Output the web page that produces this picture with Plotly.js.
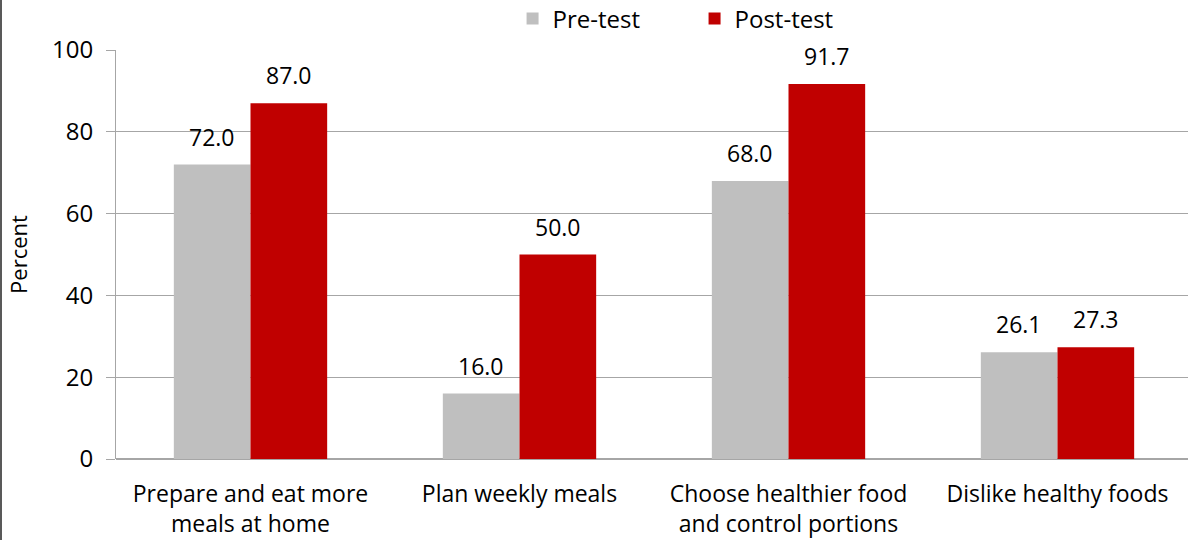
<!DOCTYPE html>
<html>
<head>
<meta charset="utf-8">
<script src="https://cdn.plot.ly/plotly-3.0.1.min.js"></script>
<style>
  html, body { margin: 0; padding: 0; overflow: hidden; background: #fff; }
  #chart { position: absolute; left: 0; top: 0; }
  #edge { position: absolute; left: 0; top: 0; width: 2px; height: 540px; background: #595959; z-index: 10; }
</style>
</head>
<body>
<div id="chart"></div>
<div id="edge"></div>
<script>
const categories = [
  "Prepare and eat more<br>meals at home",
  "Plan weekly meals",
  "Choose healthier food<br>and control portions",
  "Dislike healthy foods"
];
const preTest = [72.0, 16.0, 68.0, 26.1];
const postTest = [87.0, 50.0, 91.7, 27.3];
const seriesNames = ["Pre-test", "Post-test"];
const yTicks = [0, 20, 40, 60, 80, 100];

const FONT = "'Open Sans', 'Noto Sans', sans-serif";
const GRAY = "#BFBFBF";
const RED = "#C00000";

const traces = [
  { type: "bar", name: seriesNames[0], x: categories, y: preTest, marker: { color: GRAY }, hoverinfo: "none" },
  { type: "bar", name: seriesNames[1], x: categories, y: postTest, marker: { color: RED }, hoverinfo: "none" }
];

const annotations = [];
const BAR_SHIFT = 38.3;
categories.forEach((c, i) => {
  annotations.push({ xref: "x", yref: "y", x: c, y: preTest[i], text: preTest[i].toFixed(1),
    showarrow: false, xshift: -BAR_SHIFT, yshift: 10, yanchor: "bottom", font: { family: FONT, size: 23, color: "#000" } });
  annotations.push({ xref: "x", yref: "y", x: c, y: postTest[i], text: postTest[i].toFixed(1),
    showarrow: false, xshift: BAR_SHIFT, yshift: 10, yanchor: "bottom", font: { family: FONT, size: 23, color: "#000" } });
});

const layout = {
  width: 1192,
  height: 540,
  margin: { l: 116, r: 0, t: 50, b: 81, pad: 0, autoexpand: false },
  paper_bgcolor: "#fff",
  plot_bgcolor: "#fff",
  font: { family: FONT, size: 23, color: "#000" },
  barmode: "group",
  bargap: 0.43,
  bargroupgap: 0,
  showlegend: true,
  legend: {
    orientation: "h", xref: "container", yref: "container",
    x: 0.430, xanchor: "left", y: 0.965, yanchor: "middle",
    font: { family: FONT, size: 24, color: "#000" }, itemwidth: 30, traceorder: "normal",
    entrywidth: 137, entrywidthmode: "pixels"
  },
  xaxis: {
    type: "category",
    showgrid: false,
    showline: false,
    ticks: "",
    ticklabelstandoff: 19,
    tickfont: { family: FONT, size: 23, color: "#000" },
    automargin: false
  },
  yaxis: {
    range: [0, 100],
    tickvals: yTicks,
    ticktext: yTicks.map(String),
    showgrid: true,
    gridcolor: "#A6A6A6",
    gridwidth: 1,
    zeroline: true,
    zerolinecolor: "#A6A6A6",
    zerolinewidth: 2,
    showline: true,
    linecolor: "#A6A6A6",
    linewidth: 1,
    ticks: "outside",
    ticklen: 9,
    tickcolor: "#A6A6A6",
    ticklabelstandoff: 8,
    tickfont: { family: FONT, size: 24, color: "#000" },
    title: { text: "Percent", font: { family: FONT, size: 22, color: "#000" }, standoff: 18 },
    automargin: false
  },
  annotations: annotations
};

Plotly.newPlot("chart", traces, layout, { displayModeBar: false, staticPlot: true });
</script>
</body>
</html>
